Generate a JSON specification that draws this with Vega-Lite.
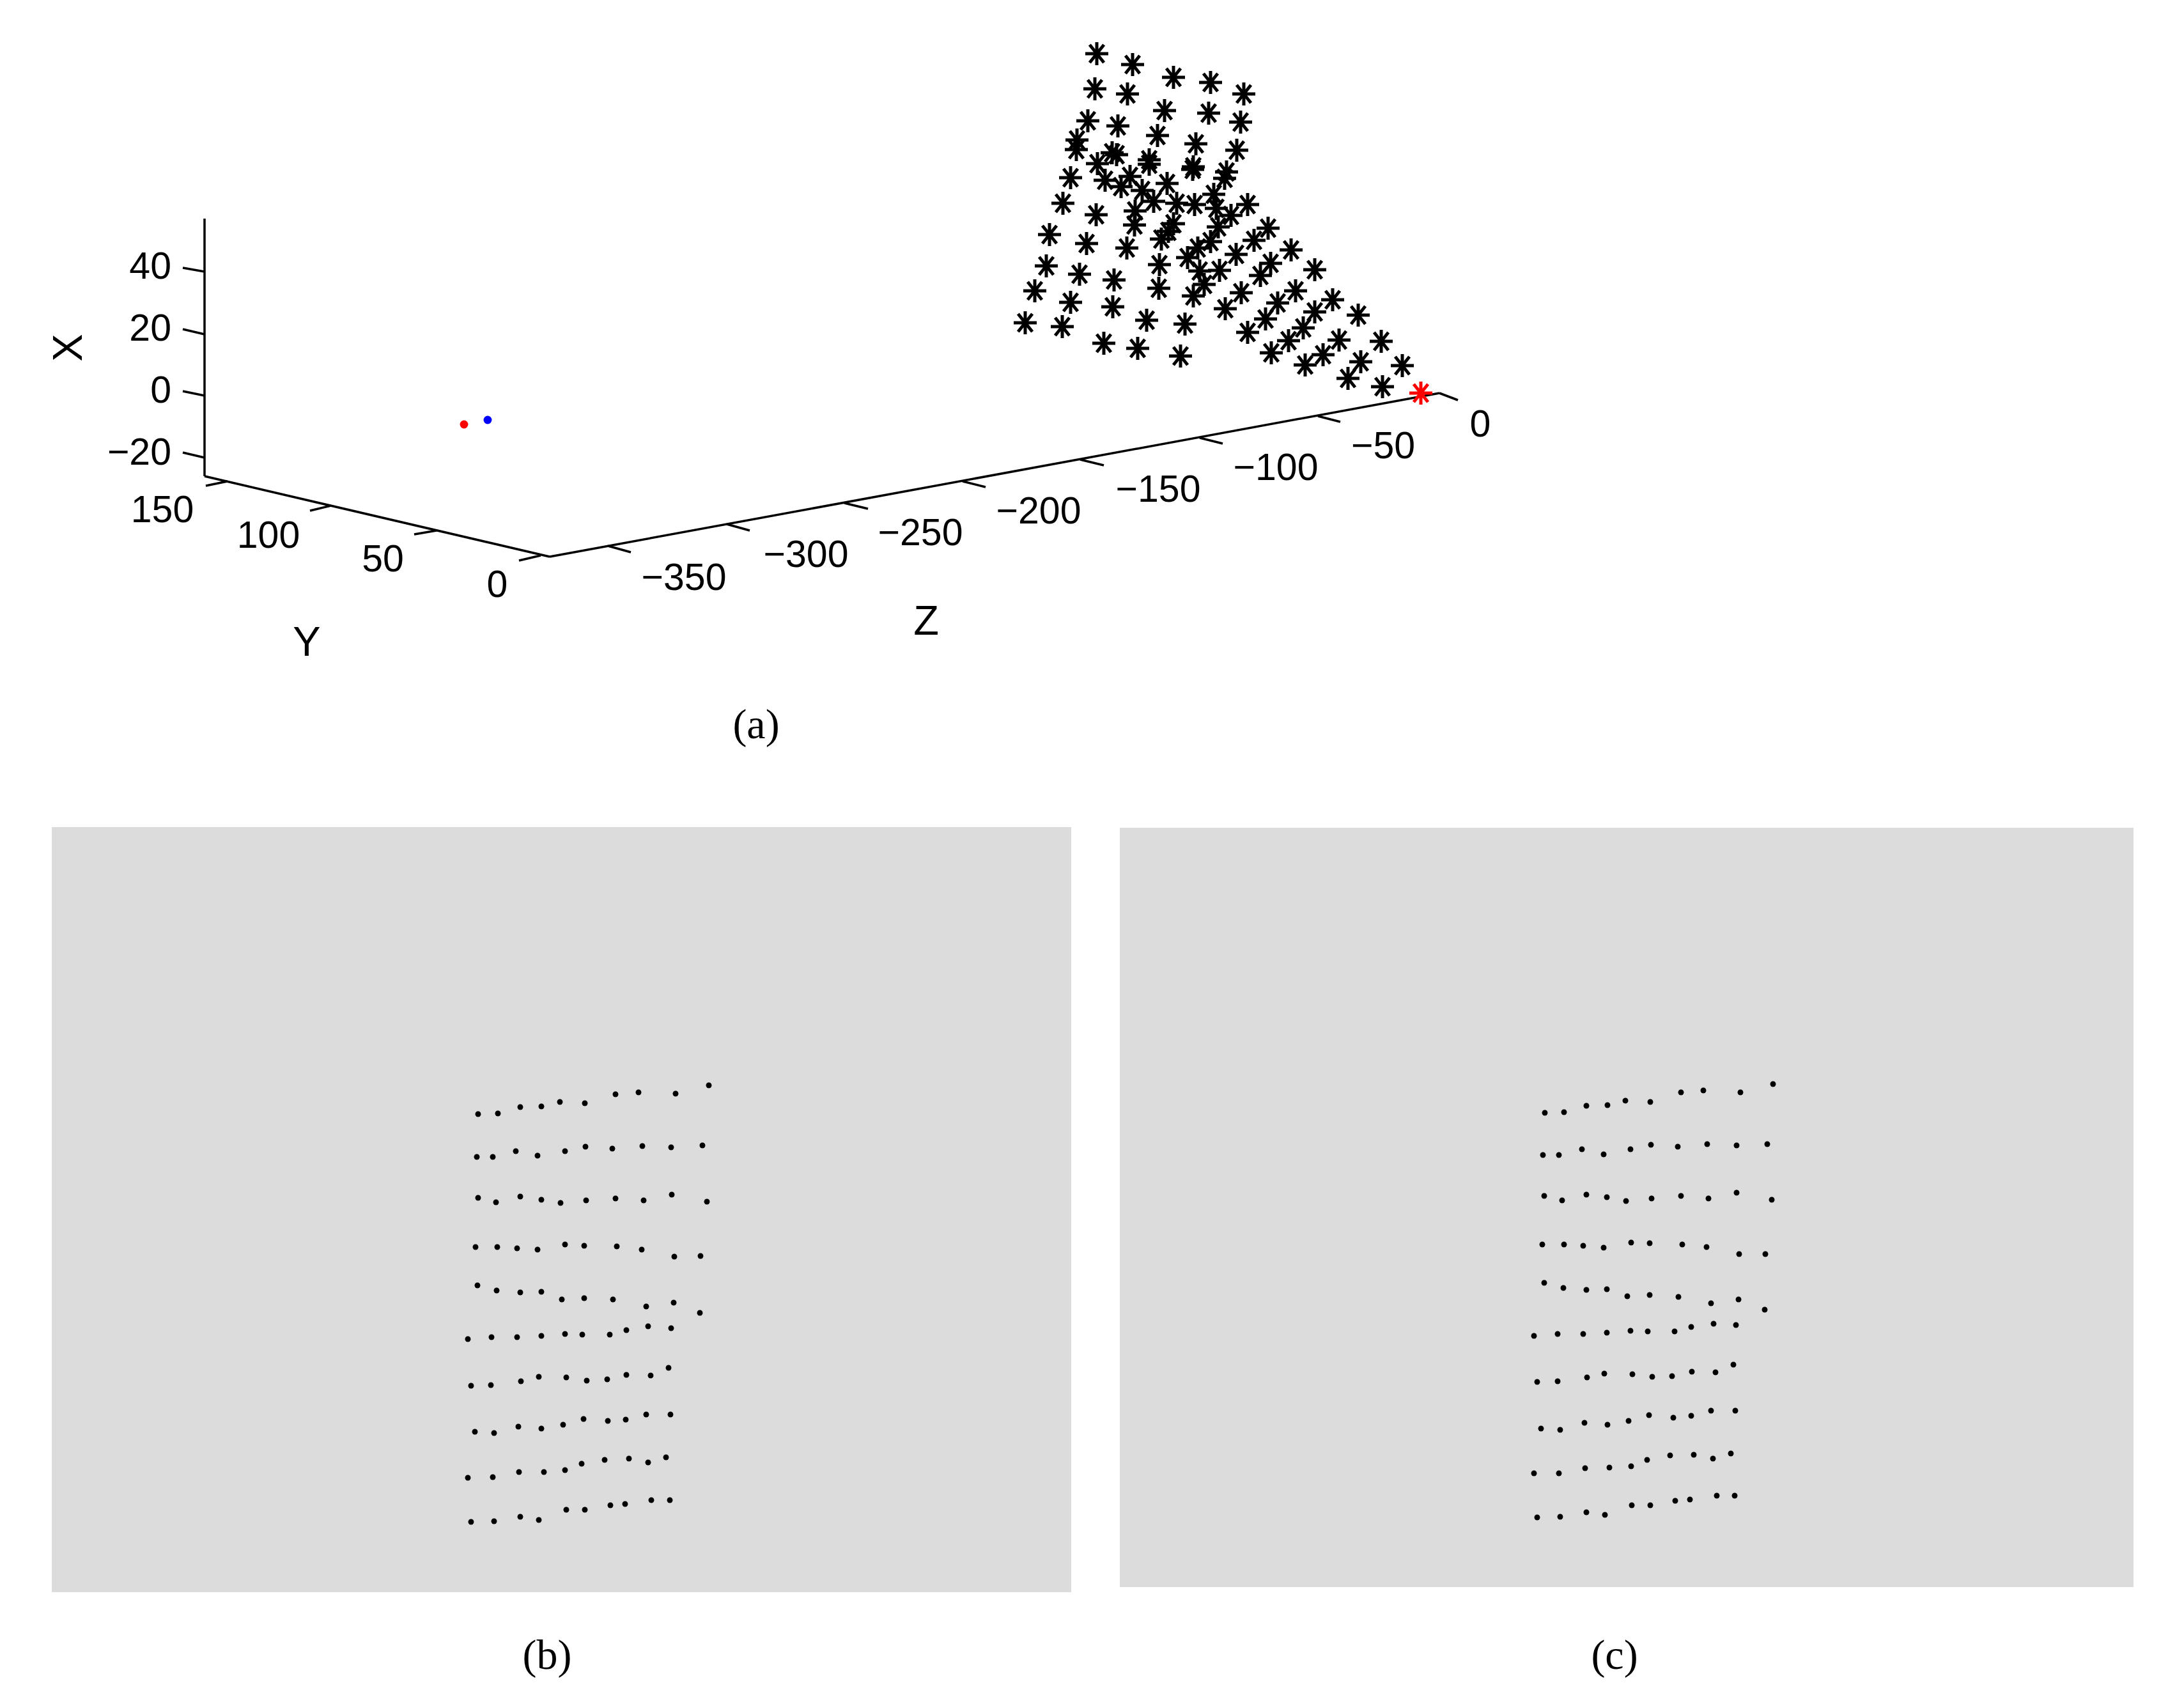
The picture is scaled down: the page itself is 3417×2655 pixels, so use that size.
{
"$schema":"https://vega.github.io/schema/vega-lite/v6.json",
"width":3417,"height":2655,
"autosize":{"type":"fit","contains":"padding"},
"padding":0,
"background":"white",
"view":{"stroke":null},
"config":{"view":{"stroke":null}},
"datasets":{
"panels":[{"panel":"b","x":81,"x2":1676,"y":1294,"y2":2491},{"panel":"c","x":1752,"x2":3338,"y":1295,"y2":2483}],
"segments":[
{"name":"X axis","x":320,"y":342,"x2":320,"y2":745},
{"name":"Y axis","x":320,"y":745,"x2":860,"y2":871},
{"name":"Z axis","x":860,"y":871,"x2":2252,"y2":615},
{"name":"X 40","x":286,"y":419,"x2":320,"y2":425},
{"name":"X 20","x":286,"y":515,"x2":320,"y2":523},
{"name":"X 0","x":286,"y":612,"x2":320,"y2":619},
{"name":"X -20","x":286,"y":708,"x2":320,"y2":716},
{"name":"Y 150","x":322,"y":760,"x2":356,"y2":753},
{"name":"Y 100","x":485,"y":799,"x2":518,"y2":791},
{"name":"Y 50","x":648,"y":836,"x2":683,"y2":830},
{"name":"Y 0","x":812,"y":877,"x2":846,"y2":869},
{"name":"Z 0","x":2252,"y":615,"x2":2281,"y2":626},
{"name":"Z -50","x":2062,"y":651,"x2":2097,"y2":660},
{"name":"Z -100","x":1877,"y":685,"x2":1913,"y2":694},
{"name":"Z -150","x":1690,"y":719,"x2":1727,"y2":728},
{"name":"Z -200","x":1506,"y":753,"x2":1542,"y2":762},
{"name":"Z -250","x":1321,"y":787,"x2":1358,"y2":796},
{"name":"Z -300","x":1137,"y":820,"x2":1173,"y2":830},
{"name":"Z -350","x":951,"y":854,"x2":987,"y2":864}
],
"stars":[
{"x":1716,"y":84,"c":"k"},{"x":1772,"y":101,"c":"k"},{"x":1836,"y":121,"c":"k"},{"x":1894,"y":129,"c":"k"},{"x":1946,"y":147,"c":"k"},
{"x":1713,"y":139,"c":"k"},{"x":1764,"y":147,"c":"k"},{"x":1822,"y":173,"c":"k"},{"x":1891,"y":177,"c":"k"},{"x":1941,"y":191,"c":"k"},
{"x":1702,"y":189,"c":"k"},{"x":1749,"y":197,"c":"k"},{"x":1811,"y":212,"c":"k"},{"x":1871,"y":225,"c":"k"},{"x":1935,"y":235,"c":"k"},
{"x":1685,"y":219,"c":"k"},{"x":1684,"y":234,"c":"k"},{"x":1740,"y":239,"c":"k"},{"x":1747,"y":242,"c":"k"},{"x":1717,"y":256,"c":"k"},
{"x":1798,"y":250,"c":"k"},{"x":1798,"y":257,"c":"k"},{"x":1867,"y":261,"c":"k"},{"x":1866,"y":265,"c":"k"},{"x":1919,"y":269,"c":"k"},
{"x":1916,"y":279,"c":"k"},{"x":1675,"y":278,"c":"k"},{"x":1729,"y":282,"c":"k"},{"x":1768,"y":276,"c":"k"},{"x":1754,"y":292,"c":"k"},
{"x":1826,"y":287,"c":"k"},{"x":1787,"y":298,"c":"k"},{"x":1899,"y":304,"c":"k"},{"x":1663,"y":318,"c":"k"},{"x":1805,"y":315,"c":"k"},
{"x":1841,"y":318,"c":"k"},{"x":1869,"y":320,"c":"k"},{"x":1903,"y":326,"c":"k"},{"x":1952,"y":320,"c":"k"},{"x":1715,"y":336,"c":"k"},
{"x":1776,"y":330,"c":"k"},{"x":1926,"y":337,"c":"k"},{"x":1836,"y":350,"c":"k"},{"x":1775,"y":352,"c":"k"},{"x":1906,"y":355,"c":"k"},
{"x":1984,"y":357,"c":"k"},{"x":1642,"y":367,"c":"k"},{"x":1828,"y":362,"c":"k"},{"x":1817,"y":374,"c":"k"},{"x":1962,"y":376,"c":"k"},
{"x":1700,"y":381,"c":"k"},{"x":1763,"y":388,"c":"k"},{"x":1894,"y":378,"c":"k"},{"x":1874,"y":388,"c":"k"},{"x":2020,"y":391,"c":"k"},
{"x":1934,"y":398,"c":"k"},{"x":1858,"y":403,"c":"k"},{"x":1637,"y":416,"c":"k"},{"x":1814,"y":414,"c":"k"},{"x":1988,"y":412,"c":"k"},
{"x":1877,"y":424,"c":"k"},{"x":1908,"y":423,"c":"k"},{"x":2057,"y":422,"c":"k"},{"x":1689,"y":429,"c":"k"},{"x":1972,"y":431,"c":"k"},
{"x":1743,"y":438,"c":"k"},{"x":1619,"y":455,"c":"k"},{"x":1813,"y":451,"c":"k"},{"x":1884,"y":445,"c":"k"},{"x":1867,"y":463,"c":"k"},
{"x":1942,"y":458,"c":"k"},{"x":2027,"y":455,"c":"k"},{"x":2085,"y":469,"c":"k"},{"x":1675,"y":473,"c":"k"},{"x":1741,"y":480,"c":"k"},
{"x":1999,"y":474,"c":"k"},{"x":1917,"y":483,"c":"k"},{"x":2057,"y":488,"c":"k"},{"x":2125,"y":493,"c":"k"},{"x":1794,"y":501,"c":"k"},
{"x":1980,"y":499,"c":"k"},{"x":1604,"y":505,"c":"k"},{"x":1854,"y":507,"c":"k"},{"x":1662,"y":511,"c":"k"},{"x":2039,"y":513,"c":"k"},
{"x":1952,"y":520,"c":"k"},{"x":2095,"y":532,"c":"k"},{"x":2161,"y":534,"c":"k"},{"x":2016,"y":533,"c":"k"},{"x":1727,"y":537,"c":"k"},
{"x":1780,"y":545,"c":"k"},{"x":1847,"y":557,"c":"k"},{"x":1989,"y":552,"c":"k"},{"x":2070,"y":555,"c":"k"},{"x":2129,"y":566,"c":"k"},
{"x":2042,"y":571,"c":"k"},{"x":2194,"y":572,"c":"k"},{"x":2109,"y":592,"c":"k"},{"x":2163,"y":605,"c":"k"},{"x":2223,"y":615,"c":"r"}
],
"centres":[{"x":726,"y":664,"c":"r"},{"x":763,"y":657,"c":"b"}],
"dots":[
{"x":748,"y":1743},{"x":779,"y":1742},{"x":814,"y":1732},{"x":847,"y":1731},{"x":876,"y":1724},{"x":915,"y":1726},{"x":963,"y":1712},{"x":999,"y":1709},{"x":1057,"y":1711},{"x":1109,"y":1698},
{"x":746,"y":1810},{"x":771,"y":1810},{"x":807,"y":1801},{"x":841,"y":1808},{"x":884,"y":1801},{"x":916,"y":1794},{"x":958,"y":1797},{"x":1005,"y":1793},{"x":1050,"y":1795},{"x":1099,"y":1792},
{"x":748,"y":1874},{"x":776,"y":1881},{"x":814,"y":1872},{"x":847,"y":1877},{"x":877,"y":1882},{"x":917,"y":1878},{"x":963,"y":1875},{"x":1007,"y":1878},{"x":1051,"y":1869},{"x":1106,"y":1880},
{"x":744,"y":1951},{"x":778,"y":1951},{"x":809,"y":1953},{"x":841,"y":1955},{"x":884,"y":1947},{"x":914,"y":1949},{"x":965,"y":1950},{"x":1004,"y":1955},{"x":1055,"y":1966},{"x":1096,"y":1965},
{"x":747,"y":2011},{"x":777,"y":2019},{"x":814,"y":2022},{"x":847,"y":2021},{"x":879,"y":2033},{"x":914,"y":2031},{"x":959,"y":2033},{"x":1011,"y":2044},{"x":1054,"y":2038},{"x":1095,"y":2054},
{"x":732,"y":2095},{"x":769,"y":2092},{"x":809,"y":2092},{"x":847,"y":2090},{"x":884,"y":2087},{"x":911,"y":2088},{"x":954,"y":2088},{"x":980,"y":2081},{"x":1014,"y":2075},{"x":1050,"y":2078},
{"x":737,"y":2168},{"x":768,"y":2167},{"x":815,"y":2161},{"x":843,"y":2154},{"x":886,"y":2155},{"x":918,"y":2160},{"x":950,"y":2158},{"x":980,"y":2151},{"x":1018,"y":2152},{"x":1046,"y":2140},
{"x":743,"y":2240},{"x":773,"y":2242},{"x":811,"y":2232},{"x":847,"y":2235},{"x":881,"y":2229},{"x":913,"y":2220},{"x":951,"y":2223},{"x":979,"y":2221},{"x":1011,"y":2213},{"x":1049,"y":2213},
{"x":732,"y":2312},{"x":771,"y":2311},{"x":812,"y":2303},{"x":851,"y":2303},{"x":884,"y":2300},{"x":910,"y":2290},{"x":946,"y":2284},{"x":984,"y":2282},{"x":1014,"y":2288},{"x":1042,"y":2280},
{"x":737,"y":2381},{"x":773,"y":2380},{"x":814,"y":2373},{"x":843,"y":2378},{"x":886,"y":2362},{"x":915,"y":2362},{"x":955,"y":2355},{"x":978,"y":2353},{"x":1019,"y":2347},{"x":1048,"y":2347},
{"x":2417,"y":1741},{"x":2447,"y":1740},{"x":2482,"y":1730},{"x":2515,"y":1729},{"x":2543,"y":1722},{"x":2582,"y":1724},{"x":2630,"y":1709},{"x":2665,"y":1706},{"x":2723,"y":1709},{"x":2774,"y":1696},
{"x":2414,"y":1807},{"x":2439,"y":1807},{"x":2475,"y":1798},{"x":2509,"y":1806},{"x":2551,"y":1798},{"x":2583,"y":1791},{"x":2625,"y":1794},{"x":2671,"y":1790},{"x":2717,"y":1792},{"x":2765,"y":1790},
{"x":2416,"y":1871},{"x":2444,"y":1878},{"x":2482,"y":1869},{"x":2514,"y":1873},{"x":2544,"y":1879},{"x":2584,"y":1875},{"x":2630,"y":1871},{"x":2673,"y":1875},{"x":2717,"y":1866},{"x":2772,"y":1877},
{"x":2413,"y":1947},{"x":2447,"y":1947},{"x":2477,"y":1949},{"x":2509,"y":1952},{"x":2552,"y":1944},{"x":2581,"y":1945},{"x":2632,"y":1947},{"x":2670,"y":1951},{"x":2721,"y":1962},{"x":2762,"y":1962},
{"x":2416,"y":2007},{"x":2446,"y":2015},{"x":2482,"y":2018},{"x":2514,"y":2017},{"x":2546,"y":2028},{"x":2581,"y":2026},{"x":2626,"y":2029},{"x":2677,"y":2039},{"x":2720,"y":2033},{"x":2761,"y":2049},
{"x":2400,"y":2090},{"x":2437,"y":2087},{"x":2477,"y":2087},{"x":2514,"y":2085},{"x":2551,"y":2082},{"x":2578,"y":2083},{"x":2620,"y":2083},{"x":2646,"y":2076},{"x":2681,"y":2071},{"x":2716,"y":2073},
{"x":2405,"y":2162},{"x":2437,"y":2161},{"x":2483,"y":2155},{"x":2510,"y":2149},{"x":2554,"y":2150},{"x":2585,"y":2154},{"x":2616,"y":2153},{"x":2647,"y":2146},{"x":2684,"y":2147},{"x":2712,"y":2135},
{"x":2411,"y":2235},{"x":2441,"y":2237},{"x":2479,"y":2226},{"x":2515,"y":2229},{"x":2548,"y":2223},{"x":2580,"y":2214},{"x":2618,"y":2218},{"x":2646,"y":2215},{"x":2677,"y":2207},{"x":2715,"y":2207},
{"x":2400,"y":2305},{"x":2439,"y":2305},{"x":2480,"y":2297},{"x":2518,"y":2296},{"x":2552,"y":2294},{"x":2577,"y":2284},{"x":2613,"y":2277},{"x":2650,"y":2276},{"x":2680,"y":2282},{"x":2708,"y":2274},
{"x":2405,"y":2374},{"x":2441,"y":2373},{"x":2482,"y":2366},{"x":2511,"y":2370},{"x":2553,"y":2355},{"x":2582,"y":2355},{"x":2621,"y":2348},{"x":2644,"y":2346},{"x":2686,"y":2340},{"x":2714,"y":2340}
],
"xlabels":[{"t":"40","x":268,"y":418},{"t":"20","x":268,"y":515},{"t":"0","x":268,"y":612},{"t":"−20","x":268,"y":709}],
"labels":[
{"t":"150","x":254,"y":799},{"t":"100","x":420,"y":839},{"t":"50","x":599,"y":876},{"t":"0","x":778,"y":916},
{"t":"−350","x":1070,"y":905},{"t":"−300","x":1261,"y":869},{"t":"−250","x":1440,"y":835},{"t":"−200","x":1625,"y":801},{"t":"−150","x":1812,"y":767},{"t":"−100","x":1996,"y":733},{"t":"−50","x":2164,"y":699},{"t":"0","x":2316,"y":665}
],
"ztitles":[{"t":"Y","x":480,"y":1006},{"t":"Z","x":1449,"y":973}],
"xtitle":[{"t":"X","x":108,"y":544}],
"captions":[{"t":"(a)","x":1183,"y":1135},{"t":"(b)","x":856,"y":2591},{"t":"(c)","x":2526,"y":2591}]
},
"encoding":{
"x":{"field":"x","type":"quantitative","axis":null,"scale":{"domain":[0,3417],"nice":false,"zero":false}},
"y":{"field":"y","type":"quantitative","axis":null,"scale":{"domain":[2655,0],"nice":false,"zero":false}}
},
"layer":[
{"data":{"name":"panels"},"mark":{"type":"rect","color":"#dcdcdc"},"encoding":{"x2":{"field":"x2"},"y2":{"field":"y2"}}},
{"data":{"name":"segments"},"mark":{"type":"rule","color":"black","strokeWidth":3.5},"encoding":{"x2":{"field":"x2"},"y2":{"field":"y2"}}},
{"data":{"name":"stars"},"mark":{"type":"point","shape":"M-1,0L1,0M0,-1L0,1M-0.62,-0.78L0.62,0.78M-0.62,0.78L0.62,-0.78","size":1296,"filled":false,"strokeWidth":5,"opacity":1},
"encoding":{"stroke":{"field":"c","type":"nominal","legend":null,"scale":{"domain":["k","r","b"],"range":["#000000","#ff0000","#0000ff"]}}}},
{"data":{"name":"centres"},"mark":{"type":"point","shape":"circle","size":165,"filled":true,"opacity":1},
"encoding":{"fill":{"field":"c","type":"nominal","legend":null,"scale":{"domain":["k","r","b"],"range":["#000000","#ff0000","#0000ff"]}}}},
{"data":{"name":"dots"},"mark":{"type":"point","shape":"circle","size":80,"filled":true,"color":"black","opacity":1}},
{"data":{"name":"xlabels"},"mark":{"type":"text","font":"Liberation Sans","fontSize":59,"align":"right","baseline":"middle","color":"black"},"encoding":{"text":{"field":"t"}}},
{"data":{"name":"labels"},"mark":{"type":"text","font":"Liberation Sans","fontSize":59,"align":"center","baseline":"middle","color":"black"},"encoding":{"text":{"field":"t"}}},
{"data":{"name":"ztitles"},"mark":{"type":"text","font":"Liberation Sans","fontSize":65,"align":"center","baseline":"middle","color":"black"},"encoding":{"text":{"field":"t"}}},
{"data":{"name":"xtitle"},"mark":{"type":"text","font":"Liberation Sans","fontSize":65,"align":"center","baseline":"middle","angle":270,"color":"black"},"encoding":{"text":{"field":"t"}}},
{"data":{"name":"captions"},"mark":{"type":"text","font":"Liberation Serif","fontSize":66,"align":"center","baseline":"middle","color":"black"},"encoding":{"text":{"field":"t"}}}
]
}
